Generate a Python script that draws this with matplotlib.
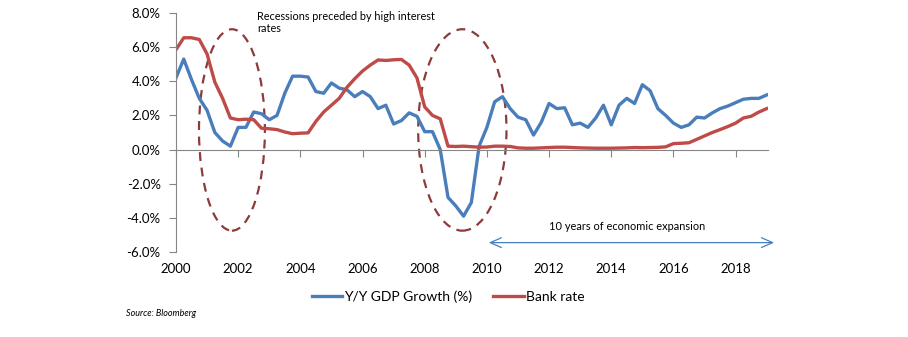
import numpy as np
import matplotlib.pyplot as plt
from matplotlib.patches import Ellipse

plt.rcParams['font.family'] = ['Lato', 'DejaVu Sans']

# quarterly data, 2000Q1 - 2019Q1
gdp = [4.2, 5.3, 4.1, 3.0, 2.3, 1.0, 0.5, 0.2,
       1.3, 1.3, 2.2, 2.1, 1.75, 2.0, 3.3, 4.3,
       4.3, 4.25, 3.4, 3.3, 3.9, 3.6, 3.5, 3.1,
       3.4, 3.1, 2.4, 2.6, 1.5, 1.7, 2.15, 1.95,
       1.05, 1.05, 0.0, -2.8, -3.3, -3.9, -3.1, 0.2,
       1.3, 2.8, 3.1, 2.4, 1.9, 1.75, 0.85, 1.6,
       2.7, 2.4, 2.45, 1.45, 1.55, 1.3, 1.85, 2.6,
       1.45, 2.6, 3.0, 2.7, 3.8, 3.45, 2.4, 2.0,
       1.55, 1.3, 1.45, 1.9, 1.85, 2.15, 2.4, 2.55,
       2.75, 2.95, 3.0, 3.0, 3.2]
bank_rate = [5.85, 6.55, 6.55, 6.45, 5.6, 3.95, 3.0, 1.85,
             1.75, 1.78, 1.75, 1.25, 1.22, 1.17, 1.03, 0.93,
             0.96, 0.98, 1.65, 2.2, 2.6, 3.0, 3.65, 4.15,
             4.6, 4.95, 5.25, 5.22, 5.26, 5.28, 4.95, 4.2,
             2.5, 2.0, 1.8, 0.2, 0.18, 0.2, 0.17, 0.14,
             0.15, 0.2, 0.2, 0.18, 0.1, 0.08, 0.08, 0.1,
             0.12, 0.14, 0.14, 0.12, 0.1, 0.09, 0.08, 0.08,
             0.08, 0.09, 0.1, 0.12, 0.11, 0.12, 0.13, 0.16,
             0.35, 0.37, 0.4, 0.6, 0.8, 1.0, 1.17, 1.35,
             1.55, 1.85, 1.95, 2.2, 2.4]
years = 2000 + np.arange(len(gdp)) / 4

fig = plt.figure(figsize=(9.08, 3.37), dpi=100)
ax = fig.add_axes([0.1938, 0.2522, 0.6523, 0.7092])

blue = '#4a7ebb'
red = '#be4b48'
ax.plot(years, gdp, color=blue, lw=2.4, label='Y/Y GDP Growth (%)', solid_joinstyle='round')
ax.plot(years, bank_rate, color=red, lw=2.4, label='Bank rate', solid_joinstyle='round')

ax.set_xlim(2000, 2019.05)
ax.set_ylim(-6, 8)
ax.set_yticks(np.arange(-6, 9, 2))
ax.set_yticklabels([f'{v:.1f}%' for v in np.arange(-6, 9, 2)], fontsize=9.5)

for s in ['top', 'right']:
    ax.spines[s].set_visible(False)
ax.spines['left'].set_color('#868686')
ax.spines['bottom'].set_color('#868686')
ax.spines['bottom'].set_position(('data', 0))
ax.tick_params(axis='y', colors='#868686', length=5, pad=6, labelcolor='black')
ax.set_xticks(range(2000, 2019, 2))
ax.tick_params(axis='x', colors='#868686', length=5, labelbottom=False)

sec = ax.secondary_xaxis('bottom')
sec.set_xticks(range(2000, 2019, 2))
sec.tick_params(length=0, labelsize=9.5, pad=8)
sec.spines['bottom'].set_visible(False)

# recession circles
for cx, w in [(2001.8, 2.12), (2009.21, 2.84)]:
    ax.add_patch(Ellipse((cx, 1.15), w, 11.8, fill=False, ec='#8c3b3b',
                         lw=1.6, ls=(0, (4, 3)), clip_on=False))

ax.text(2002.6, 8.1, 'Recessions preceded by high interest\nrates', fontsize=7.8,
        va='top', ha='left', linespacing=1.05)

ax.annotate('', xy=(2019.33, -5.45), xytext=(2009.97, -5.45),
            arrowprops=dict(arrowstyle='<->,head_length=0.8,head_width=0.35',
                            color=blue, lw=0.9), annotation_clip=False)
ax.text(2014.5, -4.5, '10 years of economic expansion', fontsize=7.9,
        ha='center', va='center')

fig.legend(loc='center', bbox_to_anchor=(448 / 908, 1 - 297 / 337), ncol=2,
           frameon=False, fontsize=10, handlelength=2.2, handletextpad=0.15,
           columnspacing=1.5)
fig.text(126 / 908, 1 - 314 / 337, 'Source: Bloomberg', fontsize=6.5,
         style='italic', va='center')

fig.savefig('out.png', dpi=100)
